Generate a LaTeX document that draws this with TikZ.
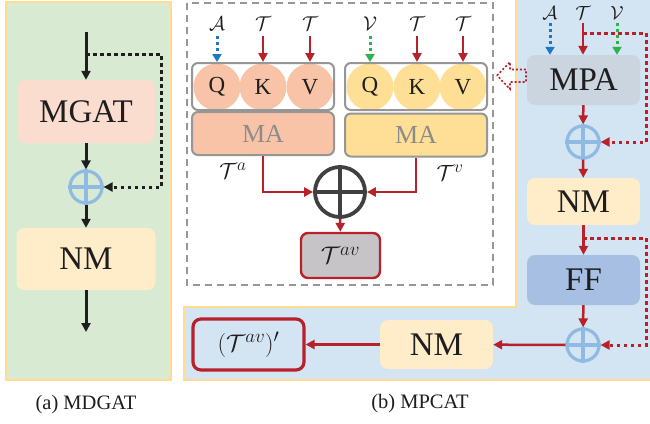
\RequirePackage{fix-cm}
\documentclass[tikz,border=0pt]{standalone}
\usepackage{fontspec}
\setmainfont{Liberation Serif}
\usetikzlibrary{arrows.meta,calc}
\DeclareMathSizes{24}{24}{19}{15}
\DeclareMathSizes{22}{22}{17.5}{14}
\definecolor{greenbg}{RGB}{217,234,211}
\definecolor{bluebg}{RGB}{211,228,242}
\definecolor{yellowb}{RGB}{255,220,145}
\definecolor{mgatfill}{RGB}{251,221,208}
\definecolor{nmfill}{RGB}{255,237,201}
\definecolor{mpafill}{RGB}{203,213,224}
\definecolor{fffill}{RGB}{167,191,227}
\definecolor{salmon}{RGB}{248,195,167}
\definecolor{yelc}{RGB}{255,223,149}
\definecolor{grayb}{RGB}{150,150,150}
\definecolor{matext}{RGB}{140,140,140}
\definecolor{plusblue}{RGB}{143,186,227}
\definecolor{darkc}{RGB}{64,64,64}
\definecolor{myred}{RGB}{184,32,42}
\definecolor{dotblue}{RGB}{31,119,196}
\definecolor{dotgreen}{RGB}{44,179,74}
\definecolor{tavfill}{RGB}{198,196,199}
\definecolor{txt}{RGB}{30,30,30}
\tikzset{
  bigbox/.style={rounded corners=8pt, draw=none, text=txt, font=\fontsize{33}{36}\selectfont, inner sep=0pt},
  plusc/.style={circle, draw=plusblue, line width=3.2pt, minimum size=32pt, inner sep=0pt},
  plusl/.style={draw=plusblue, line width=3.2pt},
  blackarrow/.style={draw=txt, line width=3pt, -{Triangle[length=9pt,width=9pt]}},
  blackdot/.style={draw=txt, line width=3pt, dash pattern=on 3.5pt off 3.5pt, -{Triangle[length=9pt,width=9pt]}},
  redarrow/.style={draw=myred, line width=2.5pt, -{Triangle[length=9pt,width=9pt]}},
  reddot/.style={draw=myred, line width=3pt, dash pattern=on 3.5pt off 3.5pt, -{Triangle[length=9pt,width=9pt]}},
  bluedotarr/.style={draw=dotblue, line width=3pt, dash pattern=on 3pt off 3pt, -{Triangle[length=8pt,width=9pt]}},
  greendotarr/.style={draw=dotgreen, line width=3pt, dash pattern=on 3pt off 3pt, -{Triangle[length=8pt,width=9pt]}},
  qkv/.style={circle, minimum size=47pt, inner sep=0pt, text=txt, font=\fontsize{23}{25}\selectfont},
  groupbox/.style={rounded corners=6pt, draw=grayb, line width=2pt, minimum width=142pt, minimum height=47pt, inner sep=0pt},
  mabox/.style={rounded corners=6pt, draw=grayb, line width=2pt, minimum width=142pt, minimum height=43pt, inner sep=0pt, text=matext, font=\fontsize{26}{28}\selectfont},
  toplabel/.style={text=txt, font=\fontsize{20}{22}\selectfont, inner sep=0pt},
  caption/.style={text=txt, font=\fontsize{20.5}{23}\selectfont}
}
\begin{document}
\begin{tikzpicture}[x=1pt,y=-1pt]
\useasboundingbox (0,0) rectangle (650,423);
\fill[white] (0,0) rectangle (650,423);
% ---------- panel (a)
\draw[fill=greenbg, draw=yellowb, line width=2pt] (6,2) rectangle (171,380);
\node[bigbox, fill=mgatfill, minimum width=138pt, minimum height=63pt] (mgat) at (86,111.5) {MGAT};
\node[plusc] (pa) at (86,187) {};
\draw[plusl] (pa.north) -- (pa.south) (pa.west) -- (pa.east);
\node[bigbox, fill=nmfill, minimum width=139pt, minimum height=62pt] (nm1) at (86,259) {NM};
\coordinate (a0) at (86,32);
\coordinate (a1) at (86,332);
\coordinate (abr) at (86,54);
\coordinate (ac) at (161,54);
\draw[blackarrow] (a0) -- (mgat);
\draw[blackarrow] (mgat) -- (pa);
\draw[blackarrow] (pa) -- (nm1);
\draw[blackarrow] (nm1) -- (a1);
\draw[blackdot] (abr) -- (ac) |- (pa.east);
\node[caption] (capa) at (86,405) {(a) MDGAT};
% ---------- panel (b) background
\fill[bluebg] (516,0) -- (650,0) -- (650,380) -- (184,380) -- (184,307) -- (516,307) -- cycle;
\draw[yellowb, line width=2pt] (516,0) -- (516,307) -- (184,307) -- (184,380) -- (650,380);
% dashed box
\draw[grayb, line width=2pt, dash pattern=on 7pt off 5pt] (187,3) rectangle (493,285);
% left group
\node[qkv, fill=salmon] (q1) at (217,87) {Q};
\node[qkv, fill=salmon] (k1) at (263,87) {K};
\node[qkv, fill=salmon] (v1) at (310,87) {V};
\node[groupbox] (g1) at (263,86.5) {};
\node[mabox, fill=salmon] (ma1) at (263,133.5) {MA};
% right group
\node[qkv, fill=yelc] (q2) at (370,87) {Q};
\node[qkv, fill=yelc] (k2) at (417,87) {K};
\node[qkv, fill=yelc] (v2) at (463,87) {V};
\node[groupbox] (g2) at (416,86.5) {};
\node[mabox, fill=yelc] (ma2) at (416,135) {MA};
% top labels
\node[toplabel] (la1) at (217,24) {$\mathcal{A}$};
\node[toplabel] (lt1) at (263,24) {$\mathcal{T}$};
\node[toplabel] (lt2) at (310,24) {$\mathcal{T}$};
\node[toplabel] (lv2) at (370,24) {$\mathcal{V}$};
\node[toplabel] (lt3) at (417,24) {$\mathcal{T}$};
\node[toplabel] (lt4) at (463,24) {$\mathcal{T}$};
\draw[bluedotarr] ([yshift=-5pt]la1.south) -- (g1.north -| la1);
\draw[redarrow] ([yshift=-5pt]lt1.south) -- (g1.north -| lt1);
\draw[redarrow] ([yshift=-5pt]lt2.south) -- (g1.north -| lt2);
\draw[greendotarr] ([yshift=-5pt]lv2.south) -- (g2.north -| lv2);
\draw[redarrow] ([yshift=-5pt]lt3.south) -- (g2.north -| lt3);
\draw[redarrow] ([yshift=-5pt]lt4.south) -- (g2.north -| lt4);
% combine
\node[circle, draw=darkc, line width=3.8pt, minimum size=50pt, inner sep=0pt] (oc) at (340,192) {};
\draw[darkc, line width=3.8pt] (oc.north) -- (oc.south) (oc.west) -- (oc.east);
\draw[redarrow] (ma1.south) |- (oc.west);
\draw[redarrow] (ma2.south) |- (oc.east);
\node[toplabel, font=\fontsize{22}{24}\selectfont] (ta) at (233,171) {$\mathcal{T}^{a}$};
\node[toplabel, font=\fontsize{22}{24}\selectfont] (tv) at (450,173) {$\mathcal{T}^{v}$};
\node[rounded corners=7pt, draw=myred, line width=2.4pt, fill=tavfill, minimum width=79pt, minimum height=45pt, inner sep=0pt, text=txt, font=\fontsize{24}{26}\selectfont] (tav) at (340.5,255.5) {$\mathcal{T}^{av}$};
\draw[redarrow] (oc) -- (tav);
% hollow arrow
\draw[myred, line width=1.6pt, dash pattern=on 2pt off 2pt] (497,75.5) -- (510,62) -- (510,69.5) -- (526,69.5) -- (526,82) -- (510,82) -- (510,89) -- cycle;
% right column
\node[toplabel, font=\fontsize{19}{21}\selectfont] (rA) at (550,13) {$\mathcal{A}$};
\node[toplabel, font=\fontsize{19}{21}\selectfont] (rT) at (583,13) {$\mathcal{T}$};
\node[toplabel, font=\fontsize{19}{21}\selectfont] (rV) at (617,13) {$\mathcal{V}$};
\node[bigbox, fill=mpafill, minimum width=113pt, minimum height=50pt] (mpa) at (583.5,80) {MPA};
\draw[bluedotarr] ([yshift=-3pt]rA.south) -- (mpa.north -| rA);
\draw[greendotarr] ([yshift=-3pt]rV.south) -- (mpa.north -| rV);
\draw[redarrow] ([yshift=-3pt]rT.south) -- (mpa.north -| rT);
\node[plusc] (pb1) at (583,142) {};
\draw[plusl] (pb1.north) -- (pb1.south) (pb1.west) -- (pb1.east);
\node[bigbox, fill=nmfill, minimum width=113pt, minimum height=47pt] (nm2) at (583.5,201.5) {NM};
\node[bigbox, fill=fffill, minimum width=113pt, minimum height=50pt] (ff) at (583.5,280) {FF};
\node[plusc] (pb2) at (583,345) {};
\draw[plusl] (pb2.north) -- (pb2.south) (pb2.west) -- (pb2.east);
\node[bigbox, fill=nmfill, minimum width=113pt, minimum height=49pt] (nm3) at (436.5,344.5) {NM};
\node[rounded corners=8pt, draw=myred, line width=3.2pt, minimum width=111pt, minimum height=51pt, inner sep=0pt, text=txt, font=\fontsize{24}{26}\selectfont] (out) at (248.5,344.5) {$(\mathcal{T}^{av})'$};
\coordinate (r1) at (583,33);
\coordinate (r1c) at (646,33);
\coordinate (r2) at (583,238);
\coordinate (r2c) at (646,238);
\draw[reddot] (r1) -- (r1c) |- (pb1.east);
\draw[reddot] (r2) -- (r2c) |- (pb2.east);
\draw[redarrow] (mpa) -- (pb1);
\draw[redarrow] (pb1) -- (nm2);
\draw[redarrow] (nm2) -- (ff);
\draw[redarrow] (ff) -- (pb2);
\draw[redarrow] (pb2) -- (nm3);
\draw[redarrow] (nm3) -- (out);
\node[caption] (capb) at (420,404) {(b) MPCAT};
\end{tikzpicture}
\end{document}
